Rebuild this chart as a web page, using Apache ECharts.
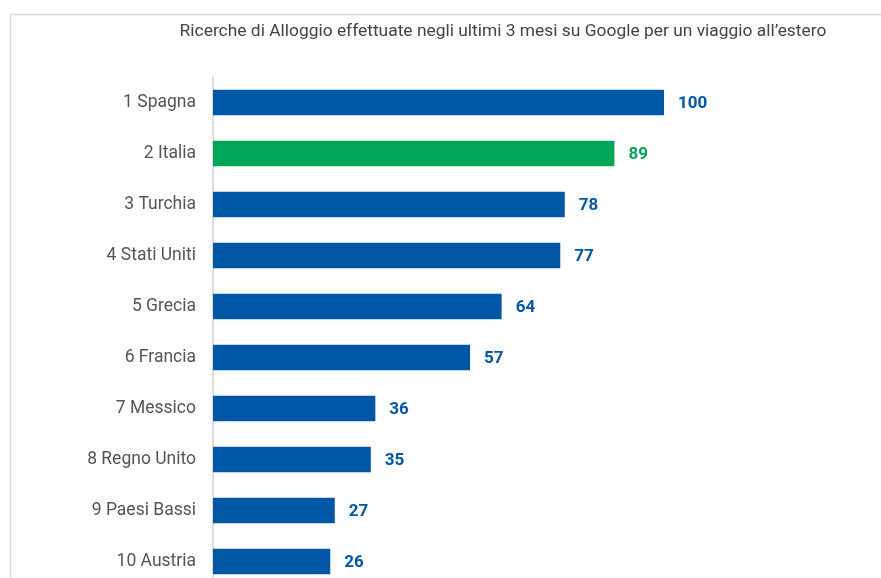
<!DOCTYPE html>
<html>
<head>
<meta charset="utf-8">
<script src="https://cdn.jsdelivr.net/npm/echarts@6/dist/echarts.min.js"></script>
<style>html,body{margin:0;padding:0;background:#fff}#c{width:881px;height:578px}</style>
</head>
<body>
<div id="c"></div>
<script>
const titleText = "Ricerche di Alloggio effettuate negli ultimi 3 mesi su Google per un viaggio all’estero";
const categories = ["1 Spagna","2 Italia","3 Turchia","4 Stati Uniti","5 Grecia","6 Francia","7 Messico","8 Regno Unito","9 Paesi Bassi","10 Austria"];
const values = [100,89,78,77,64,57,36,35,27,26];
const highlight = "2 Italia";
const BLUE = "#0057a6", GREEN = "#00a65a";

const chart = echarts.init(document.getElementById('c'));
chart.setOption({
  animation: false,
  title: {
    text: titleText, left: 498, top: 18, textAlign: 'center',
    textStyle: {fontFamily: 'Roboto', fontSize: 17.4, fontWeight: 'normal', color: '#444'}
  },
  graphic: [{
    type: 'rect', shape: {x: 10.5, y: 14.5, width: 900, height: 600},
    style: {fill: 'none', stroke: '#d9d9d9', lineWidth: 1.5}, silent: true
  }],
  grid: {left: 213, top: 77, height: 510, width: 451, containLabel: false, outerBoundsMode: 'none'},
  xAxis: {type: 'value', min: 0, max: 100, show: false},
  yAxis: {
    type: 'category', data: categories, inverse: true,
    axisLine: {show: true, lineStyle: {color: '#d0d0d0', width: 1.5}},
    axisTick: {show: false},
    axisLabel: {margin: 17, fontFamily: 'Roboto', fontSize: 17.5, color: '#555'}
  },
  series: [{
    type: 'bar', barCategoryGap: '50%',
    data: values.map((v, i) => ({
      value: v,
      itemStyle: {color: categories[i] === highlight ? GREEN : BLUE},
      label: {color: categories[i] === highlight ? GREEN : BLUE}
    })),
    label: {show: true, position: 'right', distance: 14, offset: [0, 1], fontFamily: 'Roboto', fontSize: 17, fontWeight: 'bold'}
  }]
});
</script>
</body>
</html>
